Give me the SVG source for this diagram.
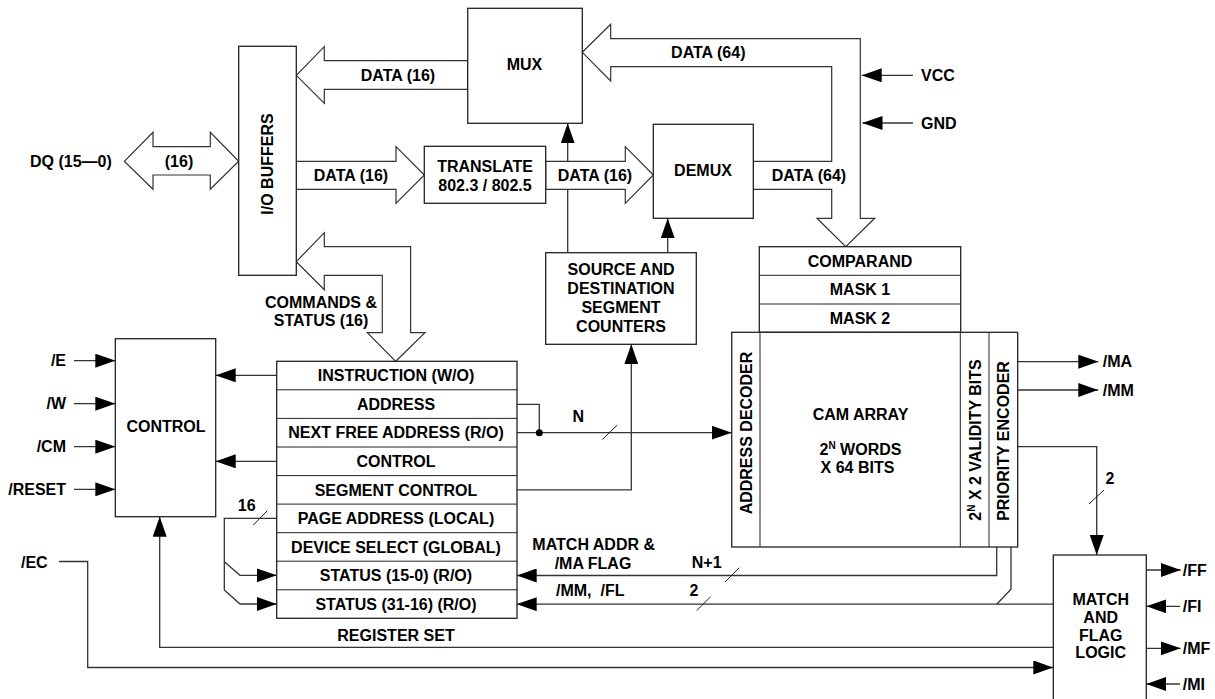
<svg xmlns="http://www.w3.org/2000/svg" width="1215" height="699" viewBox="0 0 1215 699">
<defs>
<style>
.t{font-family:"Liberation Sans",Arial,sans-serif;font-weight:bold;font-size:16px;fill:#000}
.m{text-anchor:middle}
.e{text-anchor:end}
.box{fill:#fff;stroke:#222;stroke-width:1.3}
.ln{fill:none;stroke:#333;stroke-width:1.3}
.bus{fill:#fff;stroke:#333;stroke-width:1.2}
.sl{stroke:#222;stroke-width:1}
</style>
<marker id="ah" markerUnits="userSpaceOnUse" markerWidth="20" markerHeight="14" refX="20" refY="7" orient="auto" viewBox="0 0 20 14"><path d="M0,0 L20,7 L0,14 z" fill="#000"/></marker>
</defs>
<rect width="1215" height="699" fill="#fff"/>

<g id="connectors">
<!-- lines hidden under buses -->
<polyline class="ln" points="567.7,252.7 567.7,123.3" marker-end="url(#ah)"/>
<polyline class="ln" points="667.7,252.7 667.7,218.3" marker-end="url(#ah)"/>
<!-- hollow buses -->
<polygon class="bus" points="124.3,161.3 153,132.3 153,146.7 210.3,146.7 210.3,132.3 238.7,161.3 210.3,189.3 210.3,175 153,175 153,189.3"/>
<polygon class="bus" points="296.3,75.3 324.3,46.7 324.3,60.7 467.7,60.7 467.7,89.3 324.3,89.3 324.3,103.3"/>
<polygon class="bus" points="296.3,161.3 396,161.3 396,146.7 424.3,175 396,203.3 396,189.3 296.3,189.3"/>
<polygon class="bus" points="545.7,161.3 625.3,161.3 625.3,146.7 653.3,175 625.3,203.3 625.3,189.3 545.7,189.3"/>
<polygon class="bus" points="582.3,52.3 610.7,24.3 610.7,38.7 860.3,38.7 860.3,218.3 874.7,218.3 845.8,246.7 817,218.3 831.7,218.3 831.7,189.3 753.3,189.3 753.3,161.3 831.7,161.3 831.7,66.7 610.7,66.7 610.7,81"/>
<polygon class="bus" points="296.3,261.7 324.3,232.7 324.3,246.7 410.6,246.7 410.6,332.7 425,332.7 395.7,361.3 367.3,332.7 382.3,332.7 382.3,275.3 324.3,275.3 324.3,289.7"/>
<!-- power -->
<polyline class="ln" points="913,75.3 861.7,75.3" marker-end="url(#ah)"/>
<polyline class="ln" points="913,123 862.5,123" marker-end="url(#ah)"/>
<!-- control inputs -->
<polyline class="ln" points="74,360.7 115.3,360.7" marker-end="url(#ah)"/>
<polyline class="ln" points="74,403.7 115.3,403.7" marker-end="url(#ah)"/>
<polyline class="ln" points="74,446.7 115.3,446.7" marker-end="url(#ah)"/>
<polyline class="ln" points="74,489.3 115.3,489.3" marker-end="url(#ah)"/>
<!-- register to control -->
<polyline class="ln" points="276.7,375.3 215.7,375.3" marker-end="url(#ah)"/>
<polyline class="ln" points="276.7,461.3 215.7,461.3" marker-end="url(#ah)"/>
<!-- 16 bus -->
<polyline class="ln" points="276.7,518.3 224.3,518.3 224.3,590"/>
<polyline class="ln" points="224.3,561.7 240,575.3 276.7,575.3" marker-end="url(#ah)"/>
<polyline class="ln" points="224.3,590 240,604 276.7,604" marker-end="url(#ah)"/>
<line class="sl" x1="253.3" y1="525" x2="267.3" y2="510.7"/>
<!-- address / next free -->
<polyline class="ln" points="517,404.3 539.3,404.3 539.3,432.7"/>
<polyline class="ln" points="517,432.7 731.7,432.7" marker-end="url(#ah)"/>
<circle cx="539.3" cy="432.7" r="3.5" fill="#000"/>
<line class="sl" x1="602.3" y1="439.5" x2="617.3" y2="425"/>
<!-- segment control -->
<polyline class="ln" points="517,489.8 631.3,489.8 631.3,344.3" marker-end="url(#ah)"/>
<!-- CAM outputs -->
<polyline class="ln" points="1017.7,361.7 1098.3,361.7" marker-end="url(#ah)"/>
<polyline class="ln" points="1017.7,390 1098.3,390" marker-end="url(#ah)"/>
<polyline class="ln" points="1017.7,446.7 1096.7,446.7 1096.7,555" marker-end="url(#ah)"/>
<line class="sl" x1="1089" y1="504" x2="1104" y2="490"/>
<polyline class="ln" points="996.7,547 996.7,575.5 516.7,575.5" marker-end="url(#ah)"/>
<line class="sl" x1="725" y1="582" x2="739.3" y2="567.7"/>
<polyline class="ln" points="1053.3,604.2 516.7,604.2" marker-end="url(#ah)"/>
<polyline class="ln" points="1011,547 1011,589.3 996.7,604.2"/>
<line class="sl" x1="696.7" y1="610.5" x2="710.7" y2="596.7"/>
<!-- match to control -->
<polyline class="ln" points="1053.3,647.3 159.7,647.3 159.7,516.7" marker-end="url(#ah)"/>
<!-- /EC -->
<polyline class="ln" points="59,561.5 87.7,561.5 87.7,667.5 1053.3,667.5" marker-end="url(#ah)"/>
<!-- match flag pins -->
<polyline class="ln" points="1146.3,570 1180.7,570" marker-end="url(#ah)"/>
<polyline class="ln" points="1180,606.3 1146.3,606.3" marker-end="url(#ah)"/>
<polyline class="ln" points="1146.3,648.3 1180.7,648.3" marker-end="url(#ah)"/>
<polyline class="ln" points="1180,684 1146.3,684" marker-end="url(#ah)"/>
</g>

<g id="io-buffers">
<rect class="box" x="238.7" y="46.3" width="57.6" height="229"/>
<text class="t m" transform="translate(267,164) rotate(-90)" x="0" y="5.7">I/O BUFFERS</text>
</g>
<g id="mux">
<rect class="box" x="467.7" y="8.3" width="114.6" height="115"/>
<text class="t m" x="524.5" y="70">MUX</text>
</g>
<g id="translate">
<rect class="box" x="424.3" y="146.3" width="121.4" height="57"/>
<text class="t m" x="485" y="172.4">TRANSLATE</text>
<text class="t m" x="485" y="191.4">802.3 / 802.5</text>
</g>
<g id="demux">
<rect class="box" x="653.3" y="124.3" width="100" height="94"/>
<text class="t m" x="703" y="175.7">DEMUX</text>
</g>
<g id="counters">
<rect class="box" x="545.7" y="252.7" width="150.6" height="91.6"/>
<text class="t m" x="621" y="275">SOURCE AND</text>
<text class="t m" x="621" y="294">DESTINATION</text>
<text class="t m" x="621" y="313">SEGMENT</text>
<text class="t m" x="621" y="332">COUNTERS</text>
</g>
<g id="comparand">
<rect class="box" x="759.3" y="246.7" width="201.4" height="85.6"/>
<line class="sl" x1="759.3" y1="275.3" x2="960.7" y2="275.3"/>
<line class="sl" x1="759.3" y1="304" x2="960.7" y2="304"/>
<text class="t m" x="860" y="266.7">COMPARAND</text>
<text class="t m" x="860" y="295.4">MASK 1</text>
<text class="t m" x="860" y="323.7">MASK 2</text>
</g>
<g id="cam-array">
<rect class="box" x="731.7" y="332.3" width="286" height="214.7"/>
<line class="sl" x1="760" y1="332.3" x2="760" y2="547"/>
<line class="sl" x1="960.3" y1="332.3" x2="960.3" y2="547"/>
<line class="sl" x1="989" y1="332.3" x2="989" y2="547"/>
<text class="t m" transform="translate(746,433) rotate(-90)" x="0" y="5.7">ADDRESS DECODER</text>
<text class="t m" x="860.5" y="420">CAM ARRAY</text>
<text class="t m" x="860.5" y="455">2<tspan font-size="10" dy="-6">N</tspan><tspan dy="6"> WORDS</tspan></text>
<text class="t m" x="857.5" y="472.7">X 64 BITS</text>
<text class="t m" transform="translate(975,440) rotate(-90)" x="0" y="5.7">2<tspan font-size="10" dy="-6">N</tspan><tspan dy="6"> X 2 VALIDITY BITS</tspan></text>
<text class="t m" transform="translate(1003.5,441) rotate(-90)" x="0" y="5.7">PRIORITY ENCODER</text>
</g>
<g id="control">
<rect class="box" x="115.3" y="338.7" width="100.4" height="178"/>
<text class="t m" x="166" y="431.7">CONTROL</text>
</g>
<g id="register-set">
<rect class="box" x="276.7" y="361.3" width="240.3" height="257"/>
<line class="sl" x1="276.7" y1="389.8" x2="517" y2="389.8"/>
<line class="sl" x1="276.7" y1="418.4" x2="517" y2="418.4"/>
<line class="sl" x1="276.7" y1="447" x2="517" y2="447"/>
<line class="sl" x1="276.7" y1="475.6" x2="517" y2="475.6"/>
<line class="sl" x1="276.7" y1="504.1" x2="517" y2="504.1"/>
<line class="sl" x1="276.7" y1="532.7" x2="517" y2="532.7"/>
<line class="sl" x1="276.7" y1="561.2" x2="517" y2="561.2"/>
<line class="sl" x1="276.7" y1="589.8" x2="517" y2="589.8"/>
<text class="t m" x="396" y="381">INSTRUCTION (W/O)</text>
<text class="t m" x="396" y="409.7">ADDRESS</text>
<text class="t m" x="396" y="438.4">NEXT FREE ADDRESS (R/O)</text>
<text class="t m" x="396" y="467">CONTROL</text>
<text class="t m" x="396" y="495.5">SEGMENT CONTROL</text>
<text class="t m" x="396" y="524">PAGE ADDRESS (LOCAL)</text>
<text class="t m" x="396" y="552.5">DEVICE SELECT (GLOBAL)</text>
<text class="t m" x="396" y="581">STATUS (15-0) (R/O)</text>
<text class="t m" x="396" y="609.7">STATUS (31-16) (R/O)</text>
<text class="t m" x="396" y="640.7">REGISTER SET</text>
</g>
<g id="match-flag-logic">
<rect class="box" x="1053.3" y="555" width="93" height="150"/>
<text class="t m" x="1100.7" y="605">MATCH</text>
<text class="t m" x="1100.7" y="623">AND</text>
<text class="t m" x="1100.7" y="640.7">FLAG</text>
<text class="t m" x="1100.7" y="658.4">LOGIC</text>
</g>

<g id="labels">
<text class="t" x="30" y="166.7">DQ (15—0)</text>
<text class="t m" x="179" y="166.7">(16)</text>
<text class="t m" x="398" y="81.2">DATA (16)</text>
<text class="t m" x="351" y="180.7">DATA (16)</text>
<text class="t m" x="595" y="180.7">DATA (16)</text>
<text class="t m" x="708.3" y="58.2">DATA (64)</text>
<text class="t m" x="809" y="180.7">DATA (64)</text>
<text class="t" x="921" y="80.7">VCC</text>
<text class="t" x="921" y="128.7">GND</text>
<text class="t m" x="321" y="307.7">COMMANDS &amp;</text>
<text class="t m" x="321" y="325.7">STATUS (16)</text>
<text class="t" x="1102.7" y="367.4">/MA</text>
<text class="t" x="1102.7" y="395.7">/MM</text>
<text class="t m" x="1110" y="484">2</text>
<text class="t" x="1182.7" y="575.7">/FF</text>
<text class="t" x="1182.7" y="612">/FI</text>
<text class="t" x="1182.7" y="654">/MF</text>
<text class="t" x="1182.7" y="689.7">/MI</text>
<text class="t e" x="66" y="366.4">/E</text>
<text class="t e" x="66" y="409.4">/W</text>
<text class="t e" x="66" y="452.4">/CM</text>
<text class="t e" x="66" y="495">/RESET</text>
<text class="t" x="21" y="567.7">/EC</text>
<text class="t m" x="246.7" y="511" font-size="14">16</text>
<text class="t m" x="578.3" y="422.4">N</text>
<text class="t m" x="593.7" y="550">MATCH ADDR &amp;</text>
<text class="t m" x="593" y="569">/MA FLAG</text>
<text class="t m" x="706.7" y="568.4">N+1</text>
<text class="t" x="556" y="596.4" xml:space="preserve">/MM,  /FL</text>
<text class="t m" x="694" y="596.4">2</text>
</g>
</svg>
